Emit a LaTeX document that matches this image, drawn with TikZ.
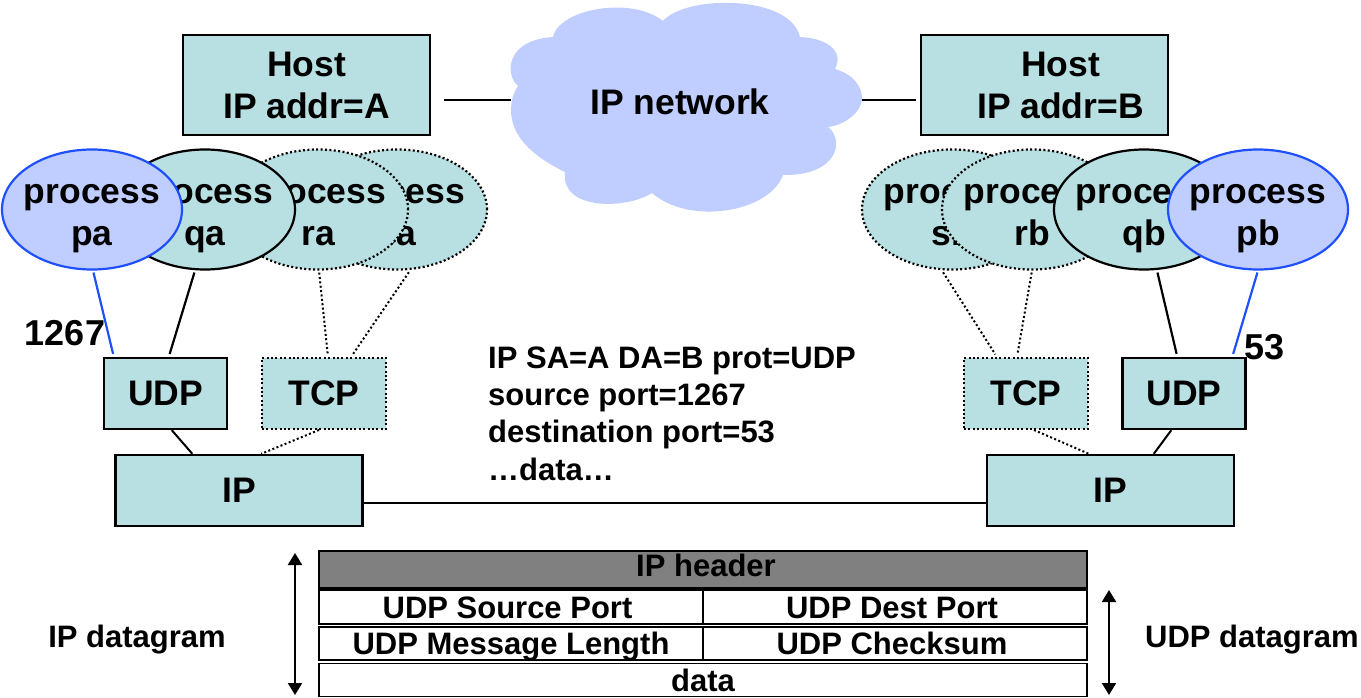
\documentclass[tikz,border=0pt]{standalone}
\usepackage{fontspec}
\setmainfont{Liberation Sans}
\usetikzlibrary{arrows.meta,shapes.geometric}
\definecolor{tealfill}{HTML}{B8DFE1}
\definecolor{bluefill}{HTML}{C0CDFF}
\definecolor{blueline}{HTML}{1F50FF}
\definecolor{headgray}{HTML}{808080}
\newcommand{\bigfont}{\fontsize{35.5}{42}\selectfont\bfseries}
\newcommand{\smallfont}{\fontsize{31}{37.3}\selectfont\bfseries}
\newcommand{\portfont}{\fontsize{36}{42}\selectfont\bfseries}
\newcommand{\capbox}[1]{\smash{#1}\rule{0pt}{22pt}}
\newcommand{\twolines}[2]{\strut #1\\\strut #2}
\tikzset{
  x=1pt,y=-1pt,
  fine dots/.style={dash pattern=on 2pt off 2.4pt},
  wire/.style={line width=2.2pt,shorten <=2pt,shorten >=3pt},
  dotwire/.style={line width=2pt,fine dots,shorten <=2pt,shorten >=3pt},
  bluewire/.style={line width=2.2pt,blueline,shorten <=2pt,shorten >=3pt},
  stack/.style={draw=black,line width=2.4pt,fill=tealfill,minimum width=#1,inner sep=0pt,font=\bigfont,align=center},
  dotstack/.style={stack=#1,line width=2pt,fine dots},
  proc/.style={ellipse,minimum width=180pt,minimum height=120pt,inner sep=0pt,line width=2.2pt},
  procsolid/.style={proc,draw=black,fill=tealfill},
  procdot/.style={proc,draw=black,fill=tealfill,fine dots},
  procblue/.style={proc,draw=blueline,fill=bluefill},
  plabel/.style={font=\bigfont,align=center,inner sep=0pt},
  cell/.style={draw=black,line width=2.4pt,fill=white,inner sep=0pt,font=\smallfont,anchor=center},
  free/.style={font=\smallfont,inner sep=0pt},
  span/.style={{Triangle[length=12pt,width=14pt]}-{Triangle[length=12pt,width=14pt]},line width=2pt}
}
\begin{document}
\begin{tikzpicture}
\useasboundingbox (0,0) rectangle (1361,698);
% cloud
\fill[bluefill] (663,21)
 .. controls (685,-5) and (790,-6) .. (800,37)
 .. controls (825,38) and (845,50) .. (835,69)
 .. controls (855,75) and (862,88) .. (862,98)
 .. controls (862,112) and (845,125) .. (828,127)
 .. controls (845,140) and (838,176) .. (783,175)
 .. controls (770,212) and (690,226) .. (652,193)
 .. controls (625,210) and (560,210) .. (565,172)
 .. controls (530,155) and (511,135) .. (511,110)
 .. controls (511,100) and (514,92) .. (518,86)
 .. controls (505,75) and (505,40) .. (553,37)
 .. controls (558,10) and (630,-5) .. (663,21) -- cycle;
\coordinate (cloudw) at (511,100);
\coordinate (cloude) at (862,100);
\node[plabel] (net) at (680,101.5) {IP network};
% hosts
\node[stack=247pt,minimum height=100pt] (hosta) at (306.5,85) {};
\node[plabel] (hostatext) at (306.5,89.6) {\twolines{Host}{IP addr=A}};
\node[stack=247pt,minimum height=100pt] (hostb) at (1044.5,85) {};
\node[plabel] (hostbtext) at (1060.5,89.6) {\twolines{Host}{IP addr=B}};
\coordinate (hae) at (hosta.east |- cloudw);
\coordinate (hbw) at (hostb.west |- cloude);
\draw[line width=2.2pt,shorten <=13pt] (hae) -- (cloudw);
\draw[line width=2.2pt,shorten >=4pt] (cloude) -- (hbw);
% processes left
\node[procdot] (sa) at (397,209.5) {};
\node[plabel] (sal) at (397,215.6) {\twolines{process}{sa}};
\node[procdot] (ra) at (318,209.5) {};
\node[plabel] (ral) at (318,215.6) {\twolines{process}{ra}};
\node[procsolid] (qa) at (205,209.5) {};
\node[plabel] (qal) at (205,215.6) {\twolines{process}{qa}};
\node[procblue] (pa) at (92,209.5) {};
\node[plabel] (pal) at (92,215.6) {\twolines{process}{pa}};
% processes right
\node[procdot] (sb) at (952,209.5) {};
\node[plabel] (sbl) at (952,215.6) {\twolines{process}{sb}};
\node[procdot] (rb) at (1032,209.5) {};
\node[plabel] (rbl) at (1032,215.6) {\twolines{process}{rb}};
\node[procsolid] (qb) at (1144,209.5) {};
\node[plabel] (qbl) at (1144,215.6) {\twolines{process}{qb}};
\node[procblue] (pb) at (1258,209.5) {};
\node[plabel] (pbl) at (1258,215.6) {\twolines{process}{pb}};
% transport and IP
\node[stack=123pt,minimum height=71pt] (udpa) at (165.5,393.5) {UDP};
\node[dotstack=124pt,minimum height=71pt] (tcpa) at (324,393.5) {TCP};
\node[dotstack=124pt,minimum height=71pt] (tcpb) at (1026,393.5) {TCP};
\node[stack=123pt,minimum height=71pt] (udpb) at (1184,393.5) {UDP};
\node[stack=247pt,minimum height=71pt] (ipa) at (239,490.5) {IP};
\node[stack=247pt,minimum height=71pt] (ipb) at (1110.5,490.5) {IP};
% process to transport
\draw[bluewire] (pa.south -| 93,0) -- ([xshift=11pt]udpa.north west);
\draw[wire] (pa.south -| 195,0) -- ([xshift=66pt]udpa.north west);
\draw[dotwire] (ra.south -| 319,0) -- ([xshift=67pt]tcpa.north west);
\draw[dotwire] (sa.south -| 410,0) -- ([xshift=90pt]tcpa.north west);
\draw[dotwire] (sb.south -| 942,0) -- ([xshift=34pt]tcpb.north west);
\draw[dotwire] (rb.south) -- ([xshift=54pt]tcpb.north west);
\draw[wire] (qb.south -| 1157,0) -- ([xshift=56pt]udpb.north west);
\draw[bluewire] (pb.south) -- ([xshift=111pt]udpb.north west);
% transport to IP
\draw[line width=2pt] ([xshift=69pt]udpa.south west) -- ([xshift=78pt]ipa.north west);
\draw[line width=2pt,fine dots] ([xshift=58pt]tcpa.south west) -- ([xshift=147pt]ipa.north west);
\draw[line width=2pt,fine dots] ([xshift=71pt]tcpb.south west) -- ([xshift=103pt]ipb.north west);
\draw[line width=2pt] ([xshift=50pt]udpb.south west) -- ([xshift=168pt]ipb.north west);
\draw[line width=2.2pt] (ipa.east |- 0,503) -- (ipb.west |- 0,503);
% port labels
\node[inner sep=0pt,font=\portfont] (p1267) at (65,333) {1267};
\node[inner sep=0pt,font=\portfont] (p53) at (1264.5,347) {53};
% packet text
\node[free,anchor=north west,align=left] (pkt) at (488,346.5) {IP SA=A DA=B prot=UDP\\source port=1267\\destination port=53\\…data…};
% table
\node[cell,fill=headgray,minimum width=768pt,minimum height=37pt] (hdr) at (703,569.5) {\hspace*{6pt}\raisebox{8pt}{\capbox{IP header}}};
\node[cell,minimum width=384pt,minimum height=34pt] (c1) at (511,607) {\hspace*{-7pt}\capbox{UDP Source Port}};
\node[cell,minimum width=384pt,minimum height=34pt] (c2) at (895,607) {\hspace*{-6pt}\capbox{UDP Dest Port}};
\node[cell,minimum width=384pt,minimum height=33pt] (c3) at (511,643.5) {\capbox{UDP Message Length}};
\node[cell,minimum width=384pt,minimum height=33pt] (c4) at (895,643.5) {\hspace*{-6pt}\capbox{UDP Checksum}};
\node[cell,line width=1.6pt,minimum width=768pt,minimum height=33pt] (c5) at (703,680) {\capbox{data}};
% spans
\coordinate (lt) at (295,553); \coordinate (lb) at (295,695);
\coordinate (rt) at (1109,590); \coordinate (rb2) at (1109,695);
\draw[span] (lt) -- (lb);
\draw[span] (rt) -- (rb2);
\node[free] (ipd) at (137,636.5) {\capbox{IP datagram}};
\node[free] (udpd) at (1252,636.5) {\capbox{UDP datagram}};
\end{tikzpicture}
\end{document}
